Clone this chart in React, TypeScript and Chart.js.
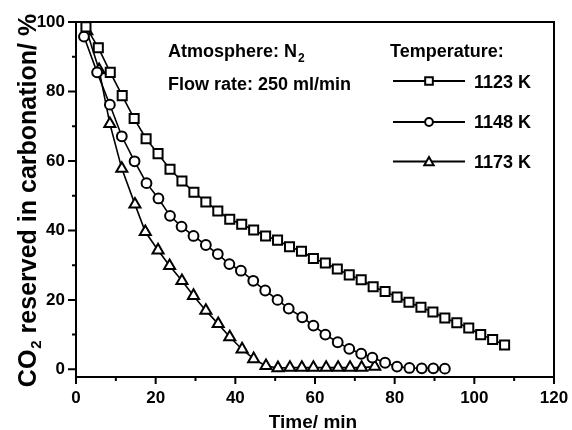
import React, { useEffect, useRef } from 'react';
import { Chart, registerables } from 'chart.js';

Chart.register(...registerables);

// ---- data ----
const time1123 = [2.5, 5.6, 8.6, 11.6, 14.6, 17.6, 20.6, 23.6, 26.6, 29.6, 32.6, 35.6, 38.6, 41.6, 44.6, 47.6, 50.6, 53.6, 56.6, 59.6, 62.6, 65.6, 68.6, 71.6, 74.6, 77.6, 80.6, 83.6, 86.6, 89.6, 92.6, 95.6, 98.6, 101.6, 104.6, 107.6];
const co2_1123 = [98.6, 92.6, 85.5, 78.8, 72.2, 66.4, 62.1, 57.6, 54.2, 51.0, 48.2, 45.6, 43.2, 41.8, 40.1, 38.4, 37.2, 35.3, 34.0, 31.9, 30.6, 28.9, 27.2, 25.8, 23.8, 22.4, 20.8, 19.3, 17.9, 16.5, 14.8, 13.4, 11.9, 10.0, 8.6, 7.0];

const time1148 = [2.0, 5.3, 8.5, 11.5, 14.7, 17.7, 20.7, 23.6, 26.5, 29.5, 32.6, 35.6, 38.5, 41.4, 44.5, 47.5, 50.6, 53.4, 56.8, 59.6, 62.6, 65.7, 68.6, 71.6, 74.4, 77.6, 80.6, 83.7, 86.8, 89.7, 92.6];
const co2_1148 = [95.8, 85.5, 76.2, 67.1, 59.9, 53.6, 49.2, 44.2, 41.1, 38.4, 35.8, 33.2, 30.3, 28.4, 25.5, 22.7, 20.0, 17.5, 15.0, 12.6, 10.0, 7.8, 5.9, 4.5, 3.4, 1.9, 0.8, 0.4, 0.3, 0.3, 0.2];

const time1173 = [2.7, 5.8, 8.5, 11.5, 14.8, 17.4, 20.6, 23.5, 26.6, 29.5, 32.6, 35.7, 38.6, 41.7, 44.6, 47.7, 50.7, 53.7, 56.7, 59.6, 62.8, 65.8, 68.8, 71.7, 75.0];
const co2_1173 = [97.4, 86.2, 70.7, 57.8, 47.5, 39.6, 34.3, 29.8, 25.5, 21.2, 16.9, 13.1, 9.3, 5.8, 3.0, 1.0, 0.4, 0.5, 0.5, 0.5, 0.5, 0.5, 0.5, 0.5, 0.8];

const seriesLabels = ['1123 K', '1148 K', '1173 K'];
const seriesStyles = ['rect', 'circle', 'triangle'];
const xTickValues = [0, 20, 40, 60, 80, 100, 120];
const xMinorValues = [10, 30, 50, 70, 90, 110];
const yTickValues = [0, 20, 40, 60, 80, 100];
const yMinorValues = [10, 30, 50, 70, 90];

const FONT = '"Liberation Sans", Arial, Helvetica, sans-serif';

function drawMarker(ctx: CanvasRenderingContext2D, style: string, x: number, y: number, r: number) {
  ctx.beginPath();
  if (style === 'rect') {
    const s = Math.SQRT1_2 * r;
    ctx.rect(x - s, y - s, 2 * s, 2 * s);
  } else if (style === 'circle') {
    ctx.arc(x, y, r, 0, Math.PI * 2);
  } else {
    for (let k = 0; k < 3; k++) {
      const a = (k * 2 * Math.PI) / 3;
      const px = x + Math.sin(a) * r;
      const py = y - Math.cos(a) * r;
      if (k === 0) ctx.moveTo(px, py);
      else ctx.lineTo(px, py);
    }
    ctx.closePath();
  }
  ctx.fillStyle = '#fff';
  ctx.fill();
  ctx.strokeStyle = '#000';
  ctx.lineWidth = 2;
  ctx.stroke();
}

export default function App() {
  const ref = useRef<HTMLCanvasElement>(null);

  useEffect(() => {
    if (!ref.current) return;
    const toPts = (t: number[], v: number[]) => t.map((x, i) => ({ x, y: v[i] }));
    const radii = [6.4, 4.9, 6.4];
    const series = [toPts(time1123, co2_1123), toPts(time1148, co2_1148), toPts(time1173, co2_1173)];

    const overlay = {
      id: 'overlay',
      afterDraw(chart: any) {
        const { ctx, chartArea: a } = chart;
        const xs = chart.scales.x;
        const ys = chart.scales.y;
        ctx.save();
        // frame
        ctx.strokeStyle = '#000';
        ctx.lineWidth = 2;
        ctx.strokeRect(a.left, a.top, a.right - a.left, a.bottom - a.top);
        // ticks
        ctx.beginPath();
        xTickValues.forEach((v) => {
          const p = xs.getPixelForValue(v);
          ctx.moveTo(p, a.bottom);
          ctx.lineTo(p, a.bottom + 7);
        });
        xMinorValues.forEach((v) => {
          const p = xs.getPixelForValue(v);
          ctx.moveTo(p, a.bottom);
          ctx.lineTo(p, a.bottom + 4);
        });
        yTickValues.forEach((v) => {
          const p = ys.getPixelForValue(v);
          ctx.moveTo(a.left, p);
          ctx.lineTo(a.left - 8, p);
        });
        yMinorValues.forEach((v) => {
          const p = ys.getPixelForValue(v);
          ctx.moveTo(a.left, p);
          ctx.lineTo(a.left - 4, p);
        });
        ctx.stroke();

        ctx.fillStyle = '#000';
        ctx.textAlign = 'left';
        ctx.textBaseline = 'alphabetic';
        // annotations
        ctx.font = `bold 18px ${FONT}`;
        const t1 = 'Atmosphere: N';
        ctx.fillText(t1, 168, 57);
        const w1 = ctx.measureText(t1).width;
        ctx.font = `bold 12px ${FONT}`;
        ctx.fillText('2', 168 + w1 + 1, 62);
        ctx.font = `bold 18px ${FONT}`;
        ctx.fillText('Flow rate: 250 ml/min', 168, 90);
        ctx.fillText('Temperature:', 390, 57);

        // legend
        const legY = [81, 122, 161.5];
        const labY = [88, 128, 167.5];
        seriesLabels.forEach((lab, i) => {
          ctx.strokeStyle = '#000';
          ctx.lineWidth = 2;
          ctx.beginPath();
          ctx.moveTo(393, legY[i]);
          ctx.lineTo(465, legY[i]);
          ctx.stroke();
          drawMarker(ctx, seriesStyles[i], 429, legY[i] + (i === 2 ? 1 : 0), radii[i] - 1);
          ctx.fillStyle = '#000';
          ctx.font = `bold 18px ${FONT}`;
          ctx.fillText(lab, 474, labY[i]);
        });

        // x title
        ctx.textAlign = 'center';
        ctx.font = `bold 19px ${FONT}`;
        ctx.fillText('Time/ min', 313, 428);

        // y title (rotated, with subscript)
        ctx.save();
        ctx.translate(36, 201);
        ctx.rotate(-Math.PI / 2);
        ctx.textAlign = 'left';
        const big = `bold 25px ${FONT}`;
        const small = `bold 15px ${FONT}`;
        const p1 = 'CO';
        const p2 = '2';
        const p3 = ' reserved in carbonation/ %';
        ctx.font = big;
        const a1 = ctx.measureText(p1).width;
        const a3 = ctx.measureText(p3).width;
        ctx.font = small;
        const a2 = ctx.measureText(p2).width;
        let pos = -(a1 + a2 + a3) / 2;
        ctx.font = big;
        ctx.fillText(p1, pos, 0);
        pos += a1;
        ctx.font = small;
        ctx.fillText(p2, pos + 1, 5);
        pos += a2 + 1;
        ctx.font = big;
        ctx.fillText(p3, pos, 0);
        ctx.restore();

        ctx.restore();
      },
    };

    const chart = new Chart(ref.current, {
      type: 'line',
      data: {
        datasets: series.map((pts, i) => ({
          label: seriesLabels[i],
          data: pts,
          borderColor: '#000',
          borderWidth: 1.6,
          backgroundColor: '#fff',
          pointStyle: seriesStyles[i] as any,
          pointRadius: radii[i],
          pointBackgroundColor: '#fff',
          pointBorderColor: '#000',
          pointBorderWidth: 2,
          tension: 0,
          fill: false,
          clip: false as any,
        })),
      },
      options: {
        animation: false,
        responsive: false,
        layout: { padding: { top: 22, right: 18, bottom: 0, left: 0 } },
        plugins: { legend: { display: false }, tooltip: { enabled: false } },
        scales: {
          x: {
            type: 'linear',
            min: 0,
            max: 120,
            grid: { display: false, drawTicks: false },
            border: { display: false },
            ticks: { color: '#000', padding: 11, font: { family: FONT, size: 17, weight: 'bold' } },
            afterBuildTicks: (s: any) => {
              s.ticks = xTickValues.map((v) => ({ value: v }));
            },
            afterFit: (s: any) => {
              s.height = 53;
              s.paddingLeft = 0;
              s.paddingRight = 0;
            },
          },
          y: {
            type: 'linear',
            min: -2.2,
            max: 100,
            grid: { display: false, drawTicks: false },
            border: { display: false },
            ticks: { color: '#000', padding: 11, font: { family: FONT, size: 17, weight: 'bold' } },
            afterBuildTicks: (s: any) => {
              s.ticks = yTickValues.map((v) => ({ value: v }));
            },
            afterFit: (s: any) => {
              s.width = 76;
              s.paddingTop = 0;
              s.paddingBottom = 0;
            },
          },
        },
      } as any,
      plugins: [overlay],
    });
    return () => chart.destroy();
  }, []);

  return (
    <div style={{ position: 'absolute', left: 0, top: 0, width: 572, height: 430, background: '#fff' }}>
      <canvas ref={ref} width={572} height={430} style={{ display: 'block' }} />
    </div>
  );
}
